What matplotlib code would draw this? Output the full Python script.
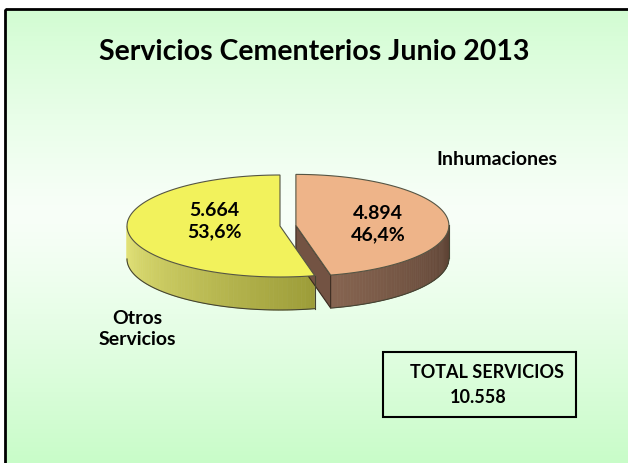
import matplotlib
matplotlib.use("Agg")
import matplotlib.pyplot as plt
import numpy as np
from matplotlib.patches import Polygon, Rectangle
from matplotlib import rcParams

rcParams["font.family"] = ["Lato", "DejaVu Sans"]
rcParams["font.weight"] = "bold"

# data
categories = ["Inhumaciones", "Otros\nServicios"]
values = np.array([4894, 5664])
value_labels = ["4.894", "5.664"]
pct_labels = ["46,4%", "53,6%"]
total_label = "10.558"
title = "Servicios Cementerios Junio 2013"

top_colors = ["#eeb489", "#f2f25c"]
side_dark = [("#866450", "#5b4133"), ("#e6e67a", "#9c9c38")]

W, H = 628, 464
fig = plt.figure(figsize=(W / 100, H / 100), dpi=100)
ax = fig.add_axes([0, 0, 1, 1])
ax.set_xlim(0, W)
ax.set_ylim(H, 0)
ax.axis("off")

# background: green -> white -> green
ys = np.linspace(0, 1, 200)
t = np.abs(ys - 0.45) / 0.55
c_top = np.array([200, 252, 200]) / 255
c_mid = np.array([248, 255, 248]) / 255
grad = c_mid[None, :] + (c_top - c_mid)[None, :] * np.clip(t, 0, 1)[:, None] ** 1.2
ax.imshow(grad[:, None, :], extent=(5, W + 2, H + 2, 10), aspect="auto", zorder=0)
ax.add_patch(Rectangle((5, 10), W, H, fill=False, ec="black", lw=2, zorder=1))

# pseudo-3D pie
cx, cy, a, b, depth = 280, 227, 153, 51, 33
frac = values / values.sum()
start = 90.0
angles = []
for f in frac:
    angles.append((start - 360 * f, start))  # clockwise from 90
    start -= 360 * f
explode = [16, 0]


def rim(t1, t2, n=120):
    th = np.radians(np.linspace(t1, t2, n))
    return np.cos(th), np.sin(th)


def mix(c1, c2, s):
    c1 = np.array(matplotlib.colors.to_rgb(c1))
    c2 = np.array(matplotlib.colors.to_rgb(c2))
    return c1 + (c2 - c1) * s


for i, (t1, t2) in enumerate(angles):
    mid = np.radians((t1 + t2) / 2)
    ox = explode[i] * np.cos(mid)
    oy = -explode[i] * np.sin(mid) * b / a
    x0, y0 = cx + ox, cy + oy

    # visible side (front half: 180..360)
    lo, hi = t1 % 360, t2 % 360
    if hi <= lo:
        hi += 360
    segs = []
    for s1, s2 in [(180, 360), (540, 720)]:
        u1, u2 = max(lo, s1), min(hi, s2)
        if u2 > u1:
            segs.append((u1, u2))
    for u1, u2 in segs:
        n = 60
        th = np.linspace(u1, u2, n + 1)
        for k in range(n):
            cs, sn = rim(th[k], th[k + 1], 4)
            xs = x0 + a * cs
            yt = y0 - b * sn
            poly = np.vstack([np.c_[xs, yt], np.c_[xs[::-1], yt[::-1] + depth]])
            col = mix(side_dark[i][0], side_dark[i][1], k / n)
            ax.add_patch(Polygon(poly, closed=True, fc=col, ec=col, lw=0.5, zorder=2))
        cs, sn = rim(u1, u2)
        xs = x0 + a * cs
        yt = y0 - b * sn
        ax.plot(xs, yt + depth, color="#444433", lw=0.8, zorder=3)
        ax.plot([xs[-1], xs[-1]], [yt[-1], yt[-1] + depth], color="#444433", lw=0.8, zorder=3)

    # cut face that faces the viewer
    th = np.radians(t1)
    if np.cos(th) > 0 and np.sin(th) < 0 and explode[i] > 0:
        ex, ey = x0 + a * np.cos(th), y0 - b * np.sin(th)
        face = [(x0, y0), (ex, ey), (ex, ey + depth), (x0, y0 + depth)]
        ax.add_patch(Polygon(face, closed=True, fc="#735343", ec="#3a2a20", lw=0.8, zorder=2.5))

    # top face
    cs, sn = rim(t1, t2)
    pts = np.vstack([[x0, y0], np.c_[x0 + a * cs, y0 - b * sn]])
    ax.add_patch(Polygon(pts, closed=True, fc=top_colors[i], ec="#555544", lw=0.8, zorder=4))

# labels
fs = 14
ax.text(378, 224, value_labels[0] + "\n" + pct_labels[0], ha="center", va="center",
        fontsize=fs, fontweight="bold", linespacing=1.3, zorder=5)
ax.text(214, 221, value_labels[1] + "\n" + pct_labels[1], ha="center", va="center",
        fontsize=fs, fontweight="bold", linespacing=1.3, zorder=5)
ax.text(497, 160, categories[0], ha="center", va="center", fontsize=fs, fontweight="bold")
ax.text(137, 329, categories[1], ha="center", va="center", fontsize=fs,
        fontweight="bold", linespacing=1.35)

ax.text(314, 52, title, ha="center", va="center", fontsize=20.5, fontweight="bold")

# total box
ax.add_patch(Rectangle((383, 353), 193, 65, fill=False, ec="black", lw=1.5, zorder=5))
ax.text(487, 373, "TOTAL SERVICIOS", ha="center", va="center", fontsize=13, fontweight="bold")
ax.text(478, 398, total_label, ha="center", va="center", fontsize=13, fontweight="bold")

fig.savefig("out.png", dpi=100)
